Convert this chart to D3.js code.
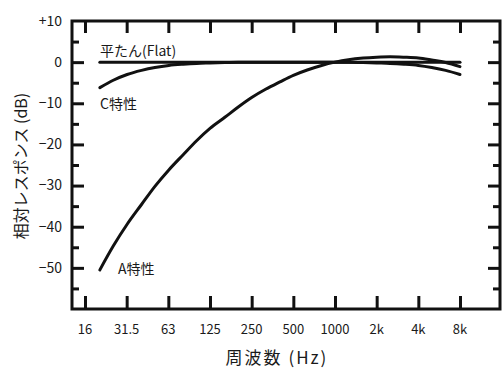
<!DOCTYPE html>
<html>
<head>
<meta charset="utf-8">
<script src="https://cdn.jsdelivr.net/npm/d3@7"></script>
<style>
	body { margin: 0; background: #fff; }
	text { font-family: "Noto Sans CJK JP", "Noto Sans", sans-serif; fill: #1a1a1a; }
</style>
</head>
<body>
<svg id="chart" width="502" height="370"></svg>
<script>
// 1/3 octave band centre frequencies (Hz)
const freqs = [20, 25, 31.5, 40, 50, 63, 80, 100, 125, 160, 200, 250, 315, 400, 500,
	630, 800, 1000, 1250, 1600, 2000, 2500, 3150, 4000, 5000, 6300, 8000];
const aWeight = [-50.5, -44.7, -39.4, -34.6, -30.2, -26.2, -22.5, -19.1, -16.1, -13.4, -10.9, -8.6, -6.6, -4.8, -3.2,
	-1.9, -0.8, 0, 0.6, 1.0, 1.2, 1.3, 1.2, 1.0, 0.5, -0.1, -1.1];
const cWeight = [-6.2, -4.4, -3.0, -2.0, -1.3, -0.8, -0.5, -0.3, -0.2, -0.1, 0, 0, 0, 0, 0,
	0, 0, 0, 0, -0.1, -0.2, -0.3, -0.5, -0.8, -1.3, -2.0, -3.0];
const flat = freqs.map(() => 0);

const xTickValues = [15.625, 31.25, 62.5, 125, 250, 500, 1000, 2000, 4000, 8000];
const xTickLabels = ["16", "31.5", "63", "125", "250", "500", "1000", "2k", "4k", "8k"];
const yMajor = [-50, -40, -30, -20, -10, 0];
const yMinor = [-55, -45, -35, -25, -15, -5, 5];
const yLabels = ["+10", "0", "\u221210", "\u221220", "\u221230", "\u221240", "\u221250"];
const yLabelValues = [10, 0, -10, -20, -30, -40, -50];

const svg = d3.select("#chart");
const frameLeft = 72, frameRight = 500, frameTop = 21, frameBottom = 309;

const x = d3.scaleLog().base(2).domain([15.625, 8000]).range([85, 460]);
const y = d3.scaleLinear().domain([-60, 10]).range([frameBottom, frameTop]);

function tickGroup(axis, tx, ty) {
	const g = svg.append("g").attr("transform", `translate(${tx},${ty})`).call(axis);
	g.select(".domain").remove();
	g.selectAll("line").attr("stroke", "#111").attr("stroke-width", 3);
	g.selectAll("text").remove();
	return g;
}

// left / right ticks
tickGroup(d3.axisLeft(y).tickValues(yMajor).tickSize(-12), frameLeft, 0);
tickGroup(d3.axisLeft(y).tickValues(yMinor).tickSize(-7), frameLeft, 0);
tickGroup(d3.axisRight(y).tickValues(yMajor).tickSize(-12), frameRight, 0);
tickGroup(d3.axisRight(y).tickValues(yMinor).tickSize(-7), frameRight, 0);
// top / bottom ticks
tickGroup(d3.axisBottom(x).tickValues(xTickValues).tickSize(-13), 0, frameBottom);
tickGroup(d3.axisTop(x).tickValues(xTickValues).tickSize(-12), 0, frameTop);

// frame
svg.append("rect")
	.attr("x", frameLeft).attr("y", frameTop)
	.attr("width", frameRight - frameLeft).attr("height", frameBottom - frameTop)
	.attr("fill", "none").attr("stroke", "#111").attr("stroke-width", 3);

// tick labels
svg.append("g").selectAll("text")
	.data(yLabelValues).enter()
	.append("text")
	.attr("x", 62)
	.attr("y", d => y(d))
	.attr("dy", "0.35em")
	.attr("text-anchor", "end")
	.attr("font-size", 14)
	.text((d, i) => yLabels[i]);

svg.append("g").selectAll("text")
	.data(xTickValues).enter()
	.append("text")
	.attr("x", d => x(d))
	.attr("y", 329)
	.attr("dy", "0.35em")
	.attr("text-anchor", "middle")
	.attr("font-size", 13)
	.text((d, i) => xTickLabels[i]);

// curves
const line = d3.line()
	.x((d, i) => x(freqs[i]))
	.y(d => y(d))
	.curve(d3.curveMonotoneX);

[flat, cWeight, aWeight].forEach(series => {
	svg.append("path")
		.datum(series)
		.attr("d", line)
		.attr("fill", "none")
		.attr("stroke", "#111")
		.attr("stroke-width", 3)
		.attr("stroke-linecap", "round");
});

// curve labels
const curveLabels = [
	{ text: "平たん(Flat)", x: 100, y: 56 },
	{ text: "C特性", x: 100, y: 109 },
	{ text: "A特性", x: 118, y: 274 }
];
svg.append("g").selectAll("text")
	.data(curveLabels).enter()
	.append("text")
	.attr("x", d => d.x)
	.attr("y", d => d.y)
	.attr("font-size", 14)
	.text(d => d.text);

// axis titles
svg.append("text")
	.attr("x", 277).attr("y", 358)
	.attr("dy", "0.35em")
	.attr("text-anchor", "middle")
	.attr("font-size", 17)
	.attr("letter-spacing", 2)
	.text("周波数 (Hz)");

svg.append("text")
	.attr("transform", "translate(21,166) rotate(-90)")
	.attr("dy", "0.35em")
	.attr("text-anchor", "middle")
	.attr("font-size", 16)
	.text("相対レスポンス (dB)");
</script>
</body>
</html>
